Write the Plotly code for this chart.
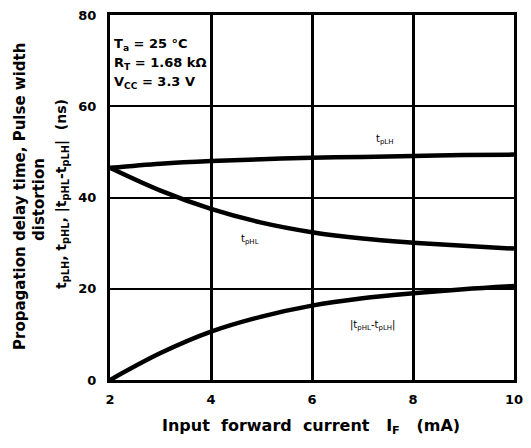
import plotly.graph_objects as go

current_mA = [2, 3, 4, 5, 6, 7, 8, 9, 10]
t_pLH = [46.5, 47.4, 48.0, 48.4, 48.7, 48.9, 49.1, 49.3, 49.4]
t_pHL = [46.5, 41.5, 37.5, 34.5, 32.4, 31.0, 30.1, 29.4, 28.8]
pwd = [0.0, 5.9, 10.6, 13.9, 16.3, 17.9, 19.0, 19.9, 20.6]

x_ticks = [2, 4, 6, 8, 10]
y_ticks = [0, 20, 40, 60, 80]

FONT = "DejaVu Sans, Verdana, sans-serif"

# target plot-area edges in page pixels (page has default 8px body margin)
PL, PR, PT, PB = 110, 514, 15, 380


def px(xp):
    return (xp - PL) / (PR - PL)


def py(yp):
    return (PB - yp) / (PB - PT)


fig = go.Figure()
for ys in (t_pLH, t_pHL, pwd):
    fig.add_trace(go.Scatter(x=current_mA, y=ys, mode="lines",
                             line=dict(color="black", width=4.5, shape="spline"),
                             showlegend=False, hoverinfo="skip"))

fig.update_layout(
    width=523, height=432,
    margin=dict(l=102, r=17, t=7, b=60, autoexpand=False),
    paper_bgcolor="white", plot_bgcolor="white",
    font=dict(family=FONT, color="black"),
)
fig.update_xaxes(range=[2, 10], tickvals=x_ticks, ticktext=[str(v) for v in x_ticks],
                 automargin=False, ticklabeloverflow="allow",
                 showgrid=True, gridcolor="black", gridwidth=3,
                 showline=True, linecolor="black", linewidth=3, mirror=True,
                 zeroline=False, ticks="", ticklabelstandoff=5,
                 tickfont=dict(size=13, family=FONT, weight="bold", color="black"))
fig.update_yaxes(range=[0, 80], tickvals=y_ticks, ticktext=[str(v) for v in y_ticks],
                 automargin=False, ticklabeloverflow="allow",
                 showgrid=True, gridcolor="black", gridwidth=2,
                 showline=True, linecolor="black", linewidth=3, mirror=True,
                 zeroline=False, ticks="", ticklabelstandoff=8,
                 tickfont=dict(size=13, family=FONT, weight="bold", color="black"))

ylines = [("Propagation delay time, Pulse width", 20, 197, 15),
          ("distortion", 39, 200, 15),
          ("t<sub>pLH</sub>, t<sub>pHL</sub>, |t<sub>pHL</sub>-t<sub>pLH</sub>|  (ns)", 62, 194, 14)]
for txt, xp, yp, fs in ylines:
    fig.add_annotation(x=px(xp), y=py(yp), xref="paper", yref="paper", text=txt,
                       textangle=-90, showarrow=False, xanchor="center", yanchor="middle",
                       font=dict(size=fs, family=FONT, weight="bold", color="black"))

fig.add_annotation(x=px(311), y=py(426), xref="paper", yref="paper",
                   text="Input  forward  current   I<sub>F</sub>   (mA)",
                   showarrow=False, xanchor="center", yanchor="middle",
                   font=dict(size=16, family=FONT, weight="bold", color="black"))

cond_lines = ["T<sub>a</sub> = 25 °C", "R<sub>T</sub> = 1.68 kΩ", "V<sub>CC</sub> = 3.3 V"]
cond_y = [44, 63, 82]
for txt, yp in zip(cond_lines, cond_y):
    fig.add_annotation(x=px(112), y=py(yp), xref="paper", yref="paper", text=txt,
                       showarrow=False, xanchor="left", yanchor="middle", align="left",
                       font=dict(size=13, family=FONT, weight="bold", color="black"))

labels = [("t<sub>pLH</sub>", 7.45, 52.8), ("t<sub>pHL</sub>", 4.77, 30.9),
          ("|t<sub>pHL</sub>-t<sub>pLH</sub>|", 7.19, 12.0)]
for txt, lx, ly in labels:
    fig.add_annotation(x=lx, y=ly, xref="x", yref="y", text=txt, showarrow=False,
                       font=dict(size=10, family=FONT, color="black"))

fig.write_html("out.html")
